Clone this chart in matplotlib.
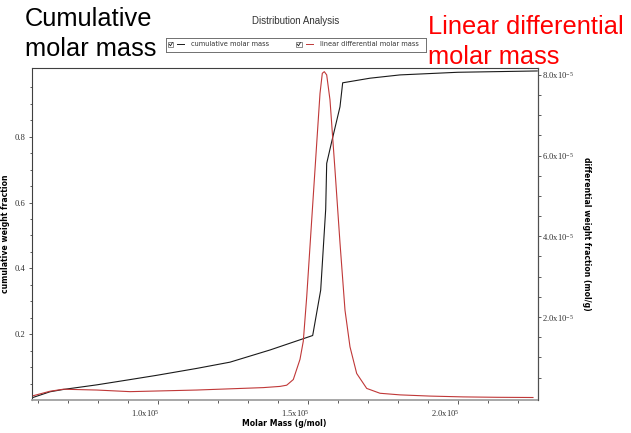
import matplotlib
matplotlib.use("Agg")
import matplotlib.pyplot as plt
import matplotlib.ticker as mticker
import matplotlib.transforms as mtransforms
from matplotlib.patches import Rectangle

# cumulative weight fraction vs molar mass (g/mol)
mass_cum = [58530, 64100, 68530, 79670, 90770, 99660, 113000, 124100, 137430,
            151660, 154330, 156000, 156330, 158000, 160760, 161660, 170760,
            180760, 200000, 226500]
cum_frac = [0.008, 0.025, 0.032, 0.046, 0.062, 0.075, 0.096, 0.115, 0.152,
            0.196, 0.334, 0.58, 0.719, 0.785, 0.891, 0.964, 0.978,
            0.988, 0.996, 1.0]

# linear differential weight fraction (x1e-5 mol/g)
mass_diff = [58530, 64100, 68530, 79670, 90770, 101870, 113000, 124100, 135200,
             140770, 143000, 145200, 147430, 148530, 149670, 151330, 153000,
             154100, 154870, 155530, 156330, 157430, 159100, 160770, 162430,
             164100, 166330, 169670, 174100, 180770, 190770, 201770, 213100,
             225100]
diff_frac = [0.05, 0.16, 0.21, 0.19, 0.15, 0.17, 0.19, 0.22, 0.25,
             0.28, 0.31, 0.45, 0.95, 1.4, 2.5, 4.4, 6.3,
             7.54, 8.04, 8.08, 8.0, 7.38, 5.64, 3.83, 2.17,
             1.26, 0.60, 0.23, 0.11, 0.07, 0.04, 0.02, 0.01,
             0.005]

x_major = [100000, 150000, 200000]
left_major = [0.2, 0.4, 0.6, 0.8]
right_major = [2e-5, 4e-5, 6e-5, 8e-5]

plt.rcParams['mathtext.fontset'] = 'custom'
plt.rcParams['mathtext.rm'] = 'Liberation Serif'
plt.rcParams['mathtext.it'] = 'Liberation Serif'
plt.rcParams['mathtext.bf'] = 'Liberation Serif'

W, H = 631, 433
fig = plt.figure(figsize=(W / 100, H / 100), dpi=100)


def px(x, y):
    return x / W, 1 - y / H


ax = fig.add_axes([32 / W, 33 / H, 505.5 / W, 332 / H])
ax2 = ax.twinx()

ax.plot(mass_cum, cum_frac, color='#1a1a1a', lw=0.8)
ax2.plot(mass_diff, [v * 1e-5 for v in diff_frac], color='#c03838', lw=0.8)

ax.set_xlim(58100, 226600)
ax.set_ylim(0, 1.009)
ax2.set_ylim(-0.057e-5, 8.171e-5)

ax.xaxis.set_major_locator(mticker.FixedLocator(x_major))
ax.xaxis.set_minor_locator(mticker.FixedLocator(
    [m for m in range(60000, 230000, 10000) if m not in x_major]))
ax.yaxis.set_major_locator(mticker.FixedLocator(left_major))
ax.yaxis.set_minor_locator(mticker.FixedLocator(
    [round(0.05 * i, 2) for i in range(1, 20) if i % 4 != 0]))
ax2.yaxis.set_major_locator(mticker.FixedLocator(right_major))
ax2.yaxis.set_minor_locator(mticker.FixedLocator(
    [0.5e-5 * i for i in range(1, 17) if i % 4 != 0]))

ax.xaxis.set_major_formatter(mticker.FuncFormatter(
    lambda v, p: f"{v / 1e5:.1f}x10$^{{5}}$"))
ax.yaxis.set_major_formatter(mticker.FuncFormatter(lambda v, p: f"{v:.1f}"))
ax2.yaxis.set_major_formatter(mticker.FuncFormatter(
    lambda v, p: f"{v / 1e-5:.1f}x10$^{{-5}}$"))

for a in (ax, ax2):
    a.tick_params(which='both', direction='out', colors='#404040',
                  labelcolor='#333333', width=0.6)
ax.tick_params(axis='x', which='major', length=2.6, pad=3.0)
ax.tick_params(axis='x', which='minor', length=2.2)
ax.tick_params(axis='y', which='major', length=2.4, pad=2.4)
ax.tick_params(axis='y', which='minor', length=1.5)
ax2.tick_params(axis='y', which='both', length=2.4, pad=1.2)
for lab in ax.get_xticklabels() + ax.get_yticklabels() + ax2.get_yticklabels():
    lab.set_fontfamily('Liberation Serif')
    lab.set_fontsize(6.2)

# x labels sit with the exponent over the tick
shift = mtransforms.ScaledTranslation(2 / 100, 0, fig.dpi_scale_trans)
for lab in ax.get_xticklabels():
    lab.set_horizontalalignment('right')
    lab.set_transform(lab.get_transform() + shift)

for name, sp in ax.spines.items():
    sp.set_color('#404040')
    sp.set_linewidth(0.8)
ax.spines['bottom'].set_color('#a0a0a0')
ax.spines['bottom'].set_linewidth(1.3)
for name, sp in ax2.spines.items():
    sp.set_visible(name == 'right')
ax2.spines['right'].set_color('#505050')
ax2.spines['right'].set_linewidth(0.8)

lab_font = dict(family='DejaVu Sans', weight='bold', size=5.6, color='black')
fig.text(*px(284, 423), 'Molar Mass (g/mol)', ha='center', va='center', **lab_font)
fig.text(*px(6, 234), 'cumulative weight fraction', rotation=90,
         ha='center', va='center', **lab_font)
fig.text(*px(587, 234), 'differential weight fraction (mol/g)', rotation=-90,
         ha='center', va='center', **lab_font)

fig.text(*px(296, 21), 'Distribution Analysis', ha='center', va='center',
         family='Liberation Sans', size=7, color='#333333')

# legend strip with checkboxes
lax = fig.add_axes([166 / W, 1 - 51.5 / H, 260 / W, 14 / H])
lax.set_xlim(166, 426)
lax.set_ylim(51.5, 37.5)
lax.set_xticks([])
lax.set_yticks([])
for sp in lax.spines.values():
    sp.set_color('#707070')
    sp.set_linewidth(0.7)
for x0, color, text, tx in [(168, '#1a1a1a', 'cumulative molar mass', 191),
                            (296, '#c03838', 'linear differential molar mass', 320)]:
    lax.add_patch(Rectangle((x0, 41.5), 5.5, 5.5, fill=False, ec='#606060', lw=0.5))
    lax.plot([x0 + 1.2, x0 + 2.5, x0 + 4.4], [44.2, 45.8, 42.6], color='#202020', lw=0.6)
    lax.plot([x0 + 9.5, x0 + 16.5], [44.3, 44.3], color=color, lw=0.7)
    lax.text(tx, 44.5, text, ha='left', va='center', family='DejaVu Sans',
             size=4.8, color='#333333')

big = dict(family='Liberation Sans', size=18.3, va='baseline', ha='left')
fig.text(*px(25, 26.5), 'Cumulative', color='black', **big)
fig.text(*px(25, 56), 'molar mass', color='black', **big)
fig.text(*px(428, 34.5), 'Linear differential', color='#ff0000', **big)
fig.text(*px(428, 63.5), 'molar mass', color='#ff0000', **big)

fig.savefig('out.png', dpi=100)
